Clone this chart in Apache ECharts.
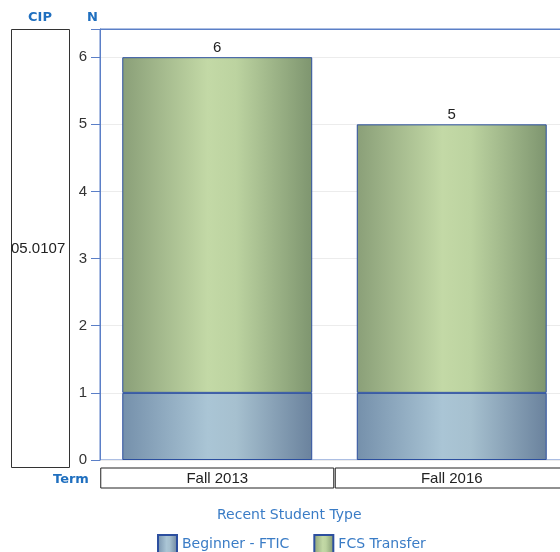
<!DOCTYPE html>
<html><head><meta charset="utf-8">
<script src="https://cdn.jsdelivr.net/npm/echarts@6/dist/echarts.min.js"></script>
<style>html,body{margin:0;padding:0;background:#fff;overflow:hidden;width:560px;height:552px}#c{width:580px;height:552px}</style>
</head><body><div id="c"></div>
<script>
var terms = ['Fall 2013', 'Fall 2016'];
var beginnerFTIC = [1, 1];
var fcsTransfer = [5, 4];
var cipLabel = '05.0107';
var seriesNames = ['Beginner - FTIC', 'FCS Transfer'];
var yTicks = [0, 1, 2, 3, 4, 5, 6];

function grad(stops){
  return new echarts.graphic.LinearGradient(0,0,1,0,stops);
}
var blueGrad = grad([{offset:0,color:'#7590ab'},{offset:0.45,color:'#aac5d5'},{offset:0.6,color:'#a6c0cf'},{offset:1,color:'#6a829d'}]);
var greenGrad = grad([{offset:0,color:'#8a9f78'},{offset:0.45,color:'#c3d9a6'},{offset:0.6,color:'#bcd3a0'},{offset:1,color:'#7e956f'}]);

var chart = echarts.init(document.getElementById('c'));
var titleColor = '#1f6fbf';
chart.setOption({
  animation:false,
  grid:{left:100, top:29, width:469, height:431, show:true, borderColor:'#5b7fc7', borderWidth:1, containLabel:false},
  xAxis:{type:'category', data:terms, axisLine:{show:false}, axisTick:{show:false},
    axisLabel:{interval:0, hideOverlap:false, margin:8, color:'#222', fontFamily:'Liberation Sans', fontSize:15,
      width:233, height:20, lineHeight:21, borderColor:'#222', borderWidth:1, align:'center', verticalAlign:'top'}},
  yAxis:{type:'value', min:0, max:6.42, interval:1,
    axisLine:{show:true, lineStyle:{color:'#5b7fc7'}},
    axisTick:{show:true, length:9, lineStyle:{color:'#5b7fc7'}},
    splitLine:{lineStyle:{color:'#ececec'}},
    axisLabel:{color:'#333', fontFamily:'Liberation Sans', fontSize:15, margin:13,
      formatter:function(v){return yTicks.indexOf(v)>=0 ? String(v) : '';}}},
  legend:{top:529, left:152, icon:'rect', itemWidth:19, itemHeight:19, itemGap:24,
    textStyle:{color:'#3a7cc6', fontFamily:'DejaVu Sans', fontSize:14},
    data:seriesNames},
  series:[
    {name:seriesNames[0], type:'bar', stack:'s', data:beginnerFTIC, barWidth:'81%',
      itemStyle:{color:blueGrad, borderColor:'#2c4f9f', borderWidth:1}},
    {name:seriesNames[1], type:'bar', stack:'s', data:fcsTransfer, barWidth:'81%',
      itemStyle:{color:greenGrad, borderColor:'#2c4f9f', borderWidth:1},
      label:{show:true, position:'top', distance:2, color:'#222', fontFamily:'Liberation Sans', fontSize:15,
        formatter:function(p){return String(beginnerFTIC[p.dataIndex]+fcsTransfer[p.dataIndex]);}}}
  ],
  graphic:[
    {type:'line', z:100, shape:{x1:100, y1:29.5, x2:580, y2:29.5}, style:{stroke:'#5b7fc7', lineWidth:1}},
    {type:'rect', shape:{x:11.5, y:29.5, width:58, height:438}, style:{fill:'none', stroke:'#333', lineWidth:1}},
    {type:'text', left:11, top:241, style:{text:cipLabel, fill:'#222', font:'15px "Liberation Sans"'}},
    {type:'text', left:28, top:11, style:{text:'CIP', fill:titleColor, font:'bold 13px "DejaVu Sans"'}},
    {type:'text', left:87, top:11, style:{text:'N', fill:titleColor, font:'bold 13px "DejaVu Sans"'}},
    {type:'text', left:53, top:473, style:{text:'Term', fill:titleColor, font:'bold 13px "DejaVu Sans"'}},
    {type:'text', left:217, top:508, style:{text:'Recent Student Type', fill:'#3a7cc6', font:'14px "DejaVu Sans"'}}
  ]
});
</script></body></html>
